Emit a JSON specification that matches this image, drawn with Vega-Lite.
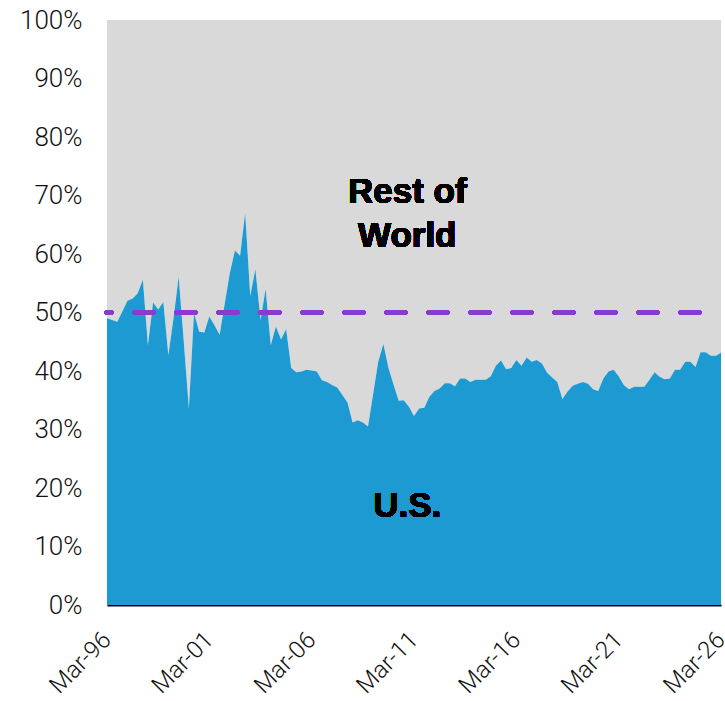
{
  "$schema": "https://vega.github.io/schema/vega-lite/v6.json",
  "width": 614,
  "height": 585,
  "autosize": "none",
  "padding": {"left": 107, "top": 20, "right": 4, "bottom": 96},
  "background": "white",
  "config": {
    "view": {"stroke": null},
    "axis": {"labelFont": "Roboto", "labelFontWeight": 300, "labelColor": "#111111", "grid": false, "ticks": false, "tickSize": 0, "title": null}
  },
  "data": {
    "values": [
      {"date": "1996-03-01", "us": 0.490}, {"date": "1996-06-01", "us": 0.487}, {"date": "1996-09-01", "us": 0.484}, {"date": "1996-12-01", "us": 0.502},
      {"date": "1997-03-01", "us": 0.520}, {"date": "1997-06-01", "us": 0.524}, {"date": "1997-09-01", "us": 0.533}, {"date": "1997-12-01", "us": 0.556},
      {"date": "1998-03-01", "us": 0.444}, {"date": "1998-06-01", "us": 0.517}, {"date": "1998-09-01", "us": 0.505}, {"date": "1998-12-01", "us": 0.518},
      {"date": "1999-03-01", "us": 0.427}, {"date": "1999-06-01", "us": 0.490}, {"date": "1999-09-01", "us": 0.561}, {"date": "1999-12-01", "us": 0.450},
      {"date": "2000-03-01", "us": 0.336}, {"date": "2000-06-01", "us": 0.499}, {"date": "2000-09-01", "us": 0.467}, {"date": "2000-12-01", "us": 0.466},
      {"date": "2001-03-01", "us": 0.493}, {"date": "2001-06-01", "us": 0.478}, {"date": "2001-09-01", "us": 0.462}, {"date": "2001-12-01", "us": 0.515},
      {"date": "2002-03-01", "us": 0.567}, {"date": "2002-06-01", "us": 0.606}, {"date": "2002-09-01", "us": 0.597}, {"date": "2002-12-01", "us": 0.670},
      {"date": "2003-03-01", "us": 0.528}, {"date": "2003-06-01", "us": 0.574}, {"date": "2003-09-01", "us": 0.487}, {"date": "2003-12-01", "us": 0.540},
      {"date": "2004-03-01", "us": 0.444}, {"date": "2004-06-01", "us": 0.476}, {"date": "2004-09-01", "us": 0.454}, {"date": "2004-12-01", "us": 0.472},
      {"date": "2005-03-01", "us": 0.405}, {"date": "2005-06-01", "us": 0.398}, {"date": "2005-09-01", "us": 0.399}, {"date": "2005-12-01", "us": 0.402},
      {"date": "2006-03-01", "us": 0.401}, {"date": "2006-06-01", "us": 0.399}, {"date": "2006-09-01", "us": 0.384}, {"date": "2006-12-01", "us": 0.381},
      {"date": "2007-03-01", "us": 0.376}, {"date": "2007-06-01", "us": 0.372}, {"date": "2007-09-01", "us": 0.359}, {"date": "2007-12-01", "us": 0.346},
      {"date": "2008-03-01", "us": 0.312}, {"date": "2008-06-01", "us": 0.316}, {"date": "2008-09-01", "us": 0.312}, {"date": "2008-12-01", "us": 0.305},
      {"date": "2009-03-01", "us": 0.360}, {"date": "2009-06-01", "us": 0.416}, {"date": "2009-09-01", "us": 0.446}, {"date": "2009-12-01", "us": 0.405},
      {"date": "2010-03-01", "us": 0.377}, {"date": "2010-06-01", "us": 0.349}, {"date": "2010-09-01", "us": 0.350}, {"date": "2010-12-01", "us": 0.339},
      {"date": "2011-03-01", "us": 0.323}, {"date": "2011-06-01", "us": 0.336}, {"date": "2011-09-01", "us": 0.337}, {"date": "2011-12-01", "us": 0.356},
      {"date": "2012-03-01", "us": 0.366}, {"date": "2012-06-01", "us": 0.370}, {"date": "2012-09-01", "us": 0.379}, {"date": "2012-12-01", "us": 0.379},
      {"date": "2013-03-01", "us": 0.374}, {"date": "2013-06-01", "us": 0.387}, {"date": "2013-09-01", "us": 0.387}, {"date": "2013-12-01", "us": 0.381},
      {"date": "2014-03-01", "us": 0.385}, {"date": "2014-06-01", "us": 0.385}, {"date": "2014-09-01", "us": 0.385}, {"date": "2014-12-01", "us": 0.391},
      {"date": "2015-03-01", "us": 0.409}, {"date": "2015-06-01", "us": 0.418}, {"date": "2015-09-01", "us": 0.403}, {"date": "2015-12-01", "us": 0.405},
      {"date": "2016-03-01", "us": 0.419}, {"date": "2016-06-01", "us": 0.409}, {"date": "2016-09-01", "us": 0.423}, {"date": "2016-12-01", "us": 0.416},
      {"date": "2017-03-01", "us": 0.419}, {"date": "2017-06-01", "us": 0.413}, {"date": "2017-09-01", "us": 0.397}, {"date": "2017-12-01", "us": 0.389},
      {"date": "2018-03-01", "us": 0.381}, {"date": "2018-06-01", "us": 0.352}, {"date": "2018-09-01", "us": 0.365}, {"date": "2018-12-01", "us": 0.375},
      {"date": "2019-03-01", "us": 0.378}, {"date": "2019-06-01", "us": 0.381}, {"date": "2019-09-01", "us": 0.378}, {"date": "2019-12-01", "us": 0.369},
      {"date": "2020-03-01", "us": 0.366}, {"date": "2020-06-01", "us": 0.387}, {"date": "2020-09-01", "us": 0.399}, {"date": "2020-12-01", "us": 0.402},
      {"date": "2021-03-01", "us": 0.391}, {"date": "2021-06-01", "us": 0.376}, {"date": "2021-09-01", "us": 0.369}, {"date": "2021-12-01", "us": 0.373},
      {"date": "2022-03-01", "us": 0.373}, {"date": "2022-06-01", "us": 0.373}, {"date": "2022-09-01", "us": 0.385}, {"date": "2022-12-01", "us": 0.398},
      {"date": "2023-03-01", "us": 0.390}, {"date": "2023-06-01", "us": 0.386}, {"date": "2023-09-01", "us": 0.387}, {"date": "2023-12-01", "us": 0.402},
      {"date": "2024-03-01", "us": 0.402}, {"date": "2024-06-01", "us": 0.416}, {"date": "2024-09-01", "us": 0.416}, {"date": "2024-12-01", "us": 0.407},
      {"date": "2025-03-01", "us": 0.432}, {"date": "2025-06-01", "us": 0.432}, {"date": "2025-09-01", "us": 0.426}, {"date": "2025-12-01", "us": 0.426},
      {"date": "2026-03-01", "us": 0.431}
    ]
  },
  "encoding": {
    "x": {
      "field": "date",
      "type": "temporal",
      "scale": {"type": "utc", "domain": [{"year": 1996, "month": 3, "date": 1, "utc": true}, {"year": 2026, "month": 3, "date": 1, "utc": true}]},
      "axis": {
        "values": [
          {"year": 1996, "month": 3, "date": 1, "utc": true},
          {"year": 2001, "month": 3, "date": 1, "utc": true},
          {"year": 2006, "month": 3, "date": 1, "utc": true},
          {"year": 2011, "month": 3, "date": 1, "utc": true},
          {"year": 2016, "month": 3, "date": 1, "utc": true},
          {"year": 2021, "month": 3, "date": 1, "utc": true},
          {"year": 2026, "month": 3, "date": 1, "utc": true}
        ],
        "format": "%b-%y",
        "labelAngle": -45,
        "labelAlign": "right",
        "labelBaseline": "middle",
        "labelFontSize": 24,
        "labelPadding": 31,
        "labelOverlap": false,
        "labelFlush": false,
        "domain": true,
        "domainColor": "#000000",
        "domainWidth": 2
      }
    }
  },
  "layer": [
    {
      "mark": {"type": "area", "color": "#d9d9d9", "interpolate": "linear"},
      "encoding": {
        "y": {"field": "us", "type": "quantitative", "scale": {"domain": [0, 1], "nice": false},
          "axis": {"values": [0, 0.1, 0.2, 0.3, 0.4, 0.5, 0.6, 0.7, 0.8, 0.9, 1], "format": ".0%", "labelFontSize": 26, "labelPadding": 25, "domain": false}},
        "y2": {"datum": 1}
      }
    },
    {
      "mark": {"type": "area", "color": "#1e9ad3", "interpolate": "linear"},
      "encoding": {
        "y": {"field": "us", "type": "quantitative"}
      }
    },
    {
      "mark": {"type": "rule", "color": "#8b3ad1", "strokeWidth": 5, "strokeDash": [18, 24], "strokeDashOffset": 20, "strokeCap": "round"},
      "encoding": {"y": {"datum": 0.5}, "x": null}
    },
    {
      "mark": {"type": "text", "text": ["Rest of", "World"], "font": "Liberation Sans", "fontWeight": "bold", "fontSize": 35, "lineHeight": 44.6, "align": "center", "baseline": "alphabetic", "color": "#000000"},
      "encoding": {
        "x": {"datum": {"year": 2010, "month": 11, "date": 1, "utc": true}, "type": "temporal"},
        "y": {"datum": 0.688}
      }
    },
    {
      "mark": {"type": "text", "text": "U.S.", "font": "Liberation Sans", "fontWeight": "bold", "fontSize": 35, "align": "center", "baseline": "alphabetic", "color": "#000000"},
      "encoding": {
        "x": {"datum": {"year": 2010, "month": 11, "date": 1, "utc": true}, "type": "temporal"},
        "y": {"datum": 0.15}
      }
    }
  ]
}
